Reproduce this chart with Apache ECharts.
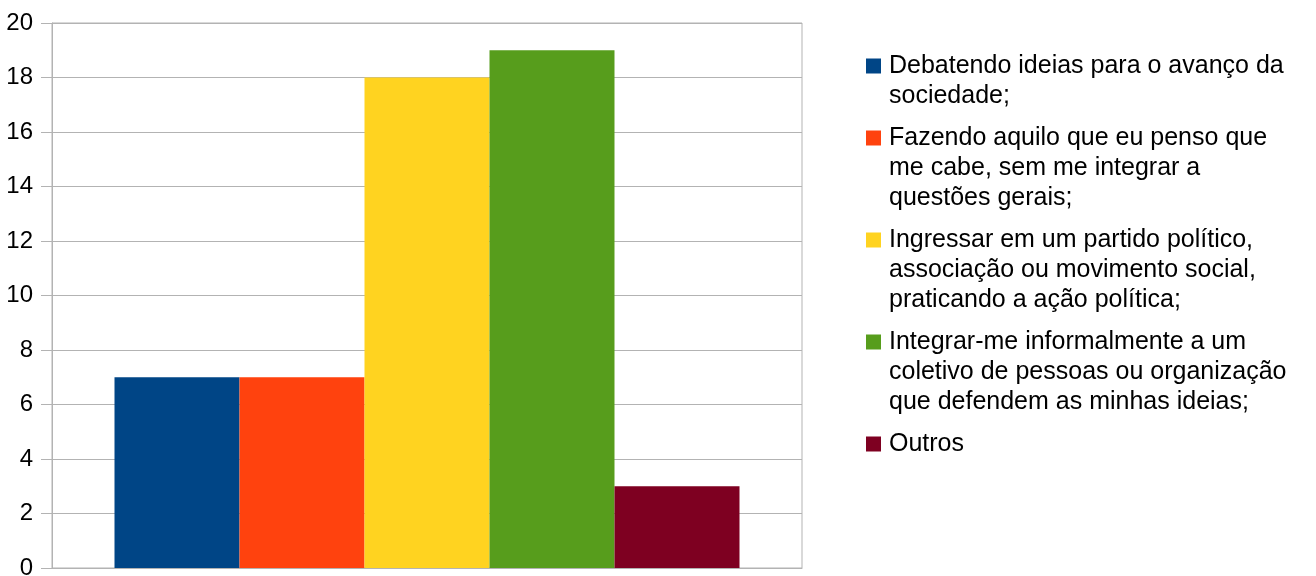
<!DOCTYPE html>
<html><head><meta charset="utf-8">
<script src="https://cdn.jsdelivr.net/npm/echarts@6/dist/echarts.min.js"></script>
<style>html,body{margin:0;padding:0;background:#fff}#c{width:1316px;height:576px}</style>
</head><body><div id="c"></div>
<script>
const seriesNames = [
  'Debatendo ideias para o avanço da sociedade;',
  'Fazendo aquilo que eu penso que me cabe, sem me integrar a questões gerais;',
  'Ingressar em um partido político, associação ou movimento social, praticando a ação política;',
  'Integrar-me informalmente a um coletivo de pessoas ou organização que defendem as minhas ideias;',
  'Outros'
];
const legendLines = [
  ['Debatendo ideias para o avanço da', 'sociedade;'],
  ['Fazendo aquilo que eu penso que', 'me cabe, sem me integrar a', 'questões gerais;'],
  ['Ingressar em um partido político,', 'associação ou movimento social,', 'praticando a ação política;'],
  ['Integrar-me informalmente a um', 'coletivo de pessoas ou organização', 'que defendem as minhas ideias;'],
  ['Outros']
];
const values = [7, 7, 18, 19, 3];
const colors = ['#004586', '#ff420e', '#ffd320', '#579d1c', '#7e0021'];
const categories = [''];

const FONT = '"Liberation Sans", Arial, sans-serif';
const rich = { g: { width: 8, lineHeight: 30 }, ind: { width: 23, lineHeight: 30 } };
colors.forEach((c, i) => { rich['s' + i] = { width: 15, height: 15, backgroundColor: c, lineHeight: 30 }; });

const chart = echarts.init(document.getElementById('c'), null, { renderer: 'canvas' });
chart.setOption({
  animation: false,
  backgroundColor: '#ffffff',
  grid: { left: 52, right: 514, top: 23, bottom: 8, show: true, borderColor: '#b3b3b3', borderWidth: 1,
          outerBoundsMode: 'none', containLabel: false },
  legend: {
    orient: 'vertical', left: 861, top: 51, itemGap: 12, icon: 'none', itemWidth: 0, itemHeight: 14,
    padding: 0,
    data: seriesNames,
    formatter: function (name) {
      const i = seriesNames.indexOf(name);
      const ls = legendLines[i];
      let s = '{s' + i + '|}{g|}' + ls[0];
      for (let k = 1; k < ls.length; k++) s += '\n{ind|}' + ls[k];
      return s;
    },
    textStyle: { fontFamily: FONT, fontSize: 25, color: '#000', lineHeight: 30, rich: rich }
  },
  xAxis: {
    type: 'category', data: categories,
    axisLine: { show: true, lineStyle: { color: '#b3b3b3', width: 1 } },
    axisTick: { show: false }, axisLabel: { show: false }, splitLine: { show: false }
  },
  yAxis: {
    type: 'value', min: 0, max: 20, interval: 2,
    axisLine: { show: true, lineStyle: { color: '#b3b3b3', width: 1 } },
    axisTick: { show: true, length: 11, lineStyle: { color: '#b3b3b3' } },
    axisLabel: { margin: 19, fontFamily: FONT, fontSize: 24, color: '#000' },
    splitLine: { show: true, lineStyle: { color: '#b3b3b3', width: 1 } }
  },
  series: seriesNames.map((n, i) => ({
    name: n, type: 'bar', data: [values[i]],
    itemStyle: { color: colors[i] },
    barGap: '0%', barCategoryGap: '16.667%'
  }))
});
</script></body></html>
